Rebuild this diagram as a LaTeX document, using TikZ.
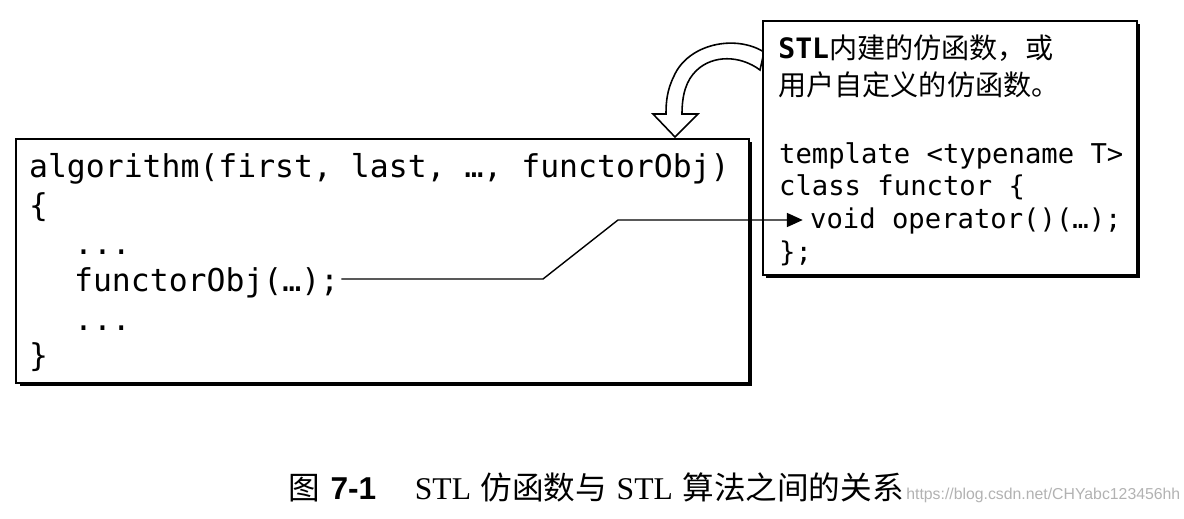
\documentclass[tikz,border=0pt]{standalone}
\usepackage{fontspec}
\setmonofont{DejaVu Sans Mono}
\newfontfamily\cjk{Noto Sans CJK SC}
\newfontfamily\capserif{Liberation Serif}
\newfontfamily\capsans{Liberation Sans}
\usetikzlibrary{arrows.meta, positioning}

\tikzset{
  codebox/.style={draw, line width=1pt, fill=white},
  lcode/.style={anchor=base west, inner sep=1pt, font=\ttfamily\fontsize{17.9}{20}\selectfont},
  rcode/.style={anchor=base west, inner sep=1pt, font=\ttfamily\fontsize{15.5}{18}\selectfont},
  note/.style={anchor=base west, inner sep=0pt, font=\cjk\fontsize{16}{19}\selectfont},
}

\begin{document}
\begin{tikzpicture}[x=0.02cm, y=-0.02cm]
  \useasboundingbox (0,0) rectangle (1184,518);

  \draw[fill=white, line width=0.9pt]
    (764,52) .. controls (735,34) and (688,44) .. (674,76)
    .. controls (667,90) and (666,102) .. (666,114)
    -- (653,114) -- (675,137) -- (698,114) -- (682,114)
    .. controls (682,95) and (686,80) .. (697,70)
    .. controls (713,55) and (740,55) .. (760,70) -- cycle;

  \fill (20,142) rectangle (752,386);
  \draw[codebox] (16,139) rectangle (749,383);
  \fill (766,24) rectangle (1140,278);
  \draw[codebox] (763,21) rectangle (1137,275);

  \node[lcode] (algo) at (27,177) {algorithm(first, last, …, functorObj)};
  \node[lcode] (lbrace) at (27,216) {\{};
  \node[lcode] (dotsa) at (72,254) {...};
  \node[lcode] (call) at (72,291) {functorObj(…);};
  \node[lcode] (dotsb) at (72,330) {...};
  \node[lcode] (rbrace) at (27,366) {\}};

  \node[note] (builtin) at (778,58) {{\ttfamily\bfseries STL}内建的仿函数，或};
  \node[note] (userdef) at (778,95) {用户自定义的仿函数。};
  \node[rcode] (tmpl) at (777,163) {template <typename T>};
  \node[rcode] (cls) at (777,195) {class functor \{};
  \node[rcode] (op) at (808,228) {void operator()(…);};
  \node[rcode] (close) at (777,261) {\};};

  \coordinate (kneeA) at (543,279);
  \coordinate (kneeB) at (618,220);
  \draw[line width=0.8pt, -{Triangle[length=9pt, width=8pt]}]
    (call.east |- kneeA) -- (kneeA) -- (kneeB) -- ([xshift=-3pt]kneeB -| op.west);

  \node[anchor=base west, inner sep=0pt, font=\fontsize{18}{21}\selectfont] (caption) at (288,499)
    {{\cjk 图}\hspace{6pt}{\capsans\bfseries 7-1}\hspace{22pt}{\capserif STL} {\cjk 仿函数与} {\capserif STL} {\cjk 算法之间的关系}};
  \node[inner sep=0pt, text=black!30, font=\capsans\fontsize{9}{11}\selectfont, right=1pt of caption.base east, anchor=base west] (mark)
    {https://blog.csdn.net/CHYabc123456hh};
\end{tikzpicture}
\end{document}
